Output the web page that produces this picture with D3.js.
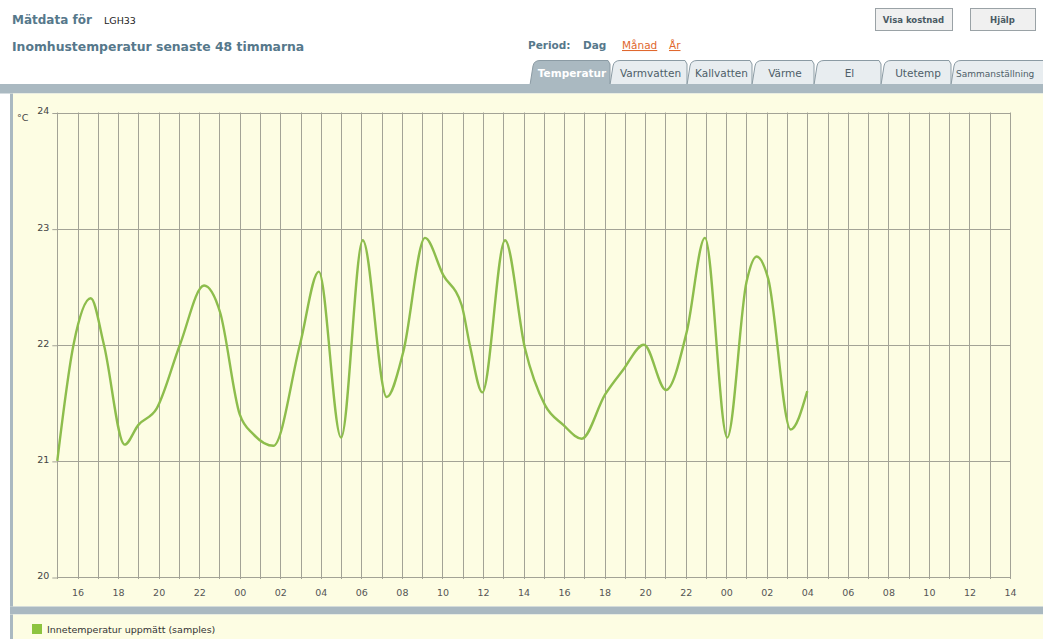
<!DOCTYPE html>
<html>
<head>
<meta charset="utf-8">
<script src="https://cdn.jsdelivr.net/npm/d3@7"></script>
<style>
  html, body { margin: 0; padding: 0; background: #fff; }
  svg { display: block; }
</style>
</head>
<body>
<svg id="chart" width="1043" height="639"></svg>
<script>
// ---------- data ----------
const startTime = new Date(2012, 0, 10, 15, 0);      // first tick hour (15:00)
const spanHours = 47;                                  // axis runs to 14:00 two days later
const sampleHours = [0, 0.8, 1.65, 2.3, 3.32, 4.0, 4.9, 6.05, 7.24, 8.03, 9.0, 9.67, 10.66,
  11.97, 12.9, 14.0, 15.07, 16.25, 17.07, 18.14, 19.04, 19.95, 20.36, 20.97, 22.09, 23.07,
  24.06, 24.96, 25.87, 27.02, 27.9, 28.94, 30.03, 31.05, 31.95, 33.05, 34.0, 34.5, 35.07,
  36.18, 37.0];
const sampleTemps = [21.00, 22.00, 22.40, 22.00, 21.14, 21.31, 21.45, 22.00, 22.51, 22.28,
  21.40, 21.23, 21.13, 22.00, 22.63, 21.20, 22.90, 21.55, 21.94, 22.92, 22.60, 22.34, 21.99,
  21.59, 22.90, 21.97, 21.48, 21.31, 21.19, 21.57, 21.78, 22.00, 21.61, 22.11, 22.92, 21.20,
  22.54, 22.76, 22.57, 21.27, 21.60];
const yTicks = [20, 21, 22, 23, 24];
const seriesName = "Innetemperatur uppmätt (samples)";
const tabNames = ["Temperatur", "Varmvatten", "Kallvatten", "Värme", "El", "Utetemp", "Sammanställning"];
const periodLinks = ["Månad", "År"];

// ---------- layout ----------
const svg = d3.select("#chart");
const plot = { left: 57.3, right: 1010, top: 112.5, bottom: 577 };
const slate = "#56788b";
const band = "#aab9c1";
const paper = "#fdfde3";
const font = "DejaVu Sans, Verdana, sans-serif";

// header
svg.append("text").attr("x", 12).attr("y", 24).attr("font-family", font).attr("font-weight", "bold")
  .attr("font-size", 12).attr("fill", slate).text("Mätdata för");
svg.append("text").attr("x", 104).attr("y", 24).attr("font-family", font)
  .attr("font-size", 9.5).attr("fill", "#222").text("LGH33");
svg.append("text").attr("x", 12).attr("y", 51).attr("font-family", font).attr("font-weight", "bold")
  .attr("font-size", 12.4).attr("fill", slate).text("Inomhustemperatur senaste 48 timmarna");

// buttons
[["Visa kostnad", 875, 952], ["Hjälp", 970, 1035]].forEach(([t, x0, x1]) => {
  svg.append("rect").attr("x", x0 + 0.5).attr("y", 8.5).attr("width", x1 - x0).attr("height", 22)
    .attr("fill", "#f0f0f0").attr("stroke", "#9aa2a6");
  svg.append("text").attr("x", (x0 + x1) / 2).attr("y", 23).attr("text-anchor", "middle")
    .attr("font-family", font).attr("font-weight", "bold").attr("font-size", 8.5)
    .attr("fill", "#4a5a64").text(t);
});

// period
svg.append("text").attr("x", 528).attr("y", 49).attr("font-family", font).attr("font-weight", "bold")
  .attr("font-size", 10.5).attr("fill", slate).text("Period:");
svg.append("text").attr("x", 583).attr("y", 49).attr("font-family", font).attr("font-weight", "bold")
  .attr("font-size", 10.5).attr("fill", slate).text("Dag");
const periodX = [622, 669];
periodLinks.forEach((t, i) => {
  svg.append("text").attr("x", periodX[i]).attr("y", 49).attr("font-family", font)
    .attr("font-size", 10.5).attr("fill", "#e0682e").attr("text-decoration", "underline").text(t);
});

// tabs
const tabEdges = [530, 610, 687, 752, 814, 881, 951, 1050];
const tabG = svg.append("g");
tabNames.forEach((t, i) => {
  const x0 = tabEdges[i], x1 = tabEdges[i + 1];
  const active = i === 0;
  const last = i === tabNames.length - 1;
  tabG.append("path")
    .attr("d", `M${x0},85 L${x0 + 3},66 Q${x0 + 4},60.5 ${x0 + 10},60.5 L${x1 - 2},60.5 L${x1},64 L${x1},85`)
    .attr("fill", active ? band : "#e8edf0").attr("stroke", "#8b9ba4").attr("stroke-width", 1);
  const tx = last ? x0 + 5 : (x0 + x1) / 2 + 2;
  tabG.append("text").attr("x", tx).attr("y", 77)
    .attr("text-anchor", last ? "start" : "middle")
    .attr("font-family", font).attr("font-size", last ? 9 : 10.5)
    .attr("font-weight", active ? "bold" : "normal")
    .attr("fill", active ? "#fff" : "#4e5e68").text(t);
});

// panel
svg.append("rect").attr("x", 0).attr("y", 84).attr("width", 1043).attr("height", 9.5).attr("fill", band);
svg.append("rect").attr("x", 10).attr("y", 93.5).attr("width", 1033).attr("height", 513).attr("fill", paper);
svg.append("rect").attr("x", 10).attr("y", 93.5).attr("width", 3).attr("height", 513).attr("fill", band);
svg.append("rect").attr("x", 10).attr("y", 606.5).attr("width", 1033).attr("height", 8).attr("fill", band);
svg.append("rect").attr("x", 10).attr("y", 614.5).attr("width", 1033).attr("height", 25).attr("fill", paper);
svg.append("rect").attr("x", 10).attr("y", 614.5).attr("width", 3).attr("height", 25).attr("fill", band);

// scales
const endTime = d3.timeHour.offset(startTime, spanHours);
const x = d3.scaleTime().domain([startTime, endTime]).range([plot.left, plot.right]);
const y = d3.scaleLinear().domain([20, 24]).range([plot.bottom, plot.top]);

// grid
const gridColor = "#a3a396";
const hourTicks = d3.timeHour.every(1).range(startTime, d3.timeHour.offset(endTime, 1));
svg.append("g").selectAll("line").data(hourTicks).join("line")
  .attr("x1", d => Math.round(x(d)) + 0.5).attr("x2", d => Math.round(x(d)) + 0.5)
  .attr("y1", plot.top).attr("y2", plot.bottom + 2)
  .attr("stroke", gridColor).attr("stroke-width", 1);
svg.append("g").selectAll("line").data(yTicks).join("line")
  .attr("x1", plot.left).attr("x2", plot.right)
  .attr("y1", d => Math.round(y(d)) + 0.5).attr("y2", d => Math.round(y(d)) + 0.5)
  .attr("stroke", gridColor).attr("stroke-width", 1);

// y axis
const yAxis = svg.append("g").attr("transform", `translate(${plot.left},0.5)`)
  .call(d3.axisLeft(y).tickValues(yTicks).tickSize(5).tickPadding(3).tickFormat(d3.format("d")));
yAxis.select(".domain").remove();
yAxis.selectAll("line").attr("stroke", gridColor);
yAxis.selectAll("text").attr("font-family", font).attr("font-size", 9.5).attr("fill", "#444").attr("dy", "0.1em");
svg.append("text").attr("x", 17).attr("y", 121).attr("font-family", font).attr("font-size", 9.5)
  .attr("fill", "#444").text("°C");

// x axis
const xAxis = svg.append("g").attr("transform", `translate(0,${plot.bottom})`)
  .call(d3.axisBottom(x).ticks(d3.timeHour.every(2)).tickSize(0).tickPadding(12)
    .tickFormat(d3.timeFormat("%H")));
xAxis.select(".domain").remove();
xAxis.selectAll("text").attr("font-family", font).attr("font-size", 9.5).attr("fill", "#555");

// line
const samples = sampleHours.map((h, i) => ({ t: new Date(startTime.getTime() + h * 3600e3), v: sampleTemps[i] }));
svg.append("path").datum(samples)
  .attr("fill", "none").attr("stroke", "#8dbd4c").attr("stroke-width", 2.4)
  .attr("stroke-linejoin", "round")
  .attr("d", d3.line().x(d => x(d.t)).y(d => y(d.v)).curve(d3.curveMonotoneX));

// legend
svg.append("rect").attr("x", 32).attr("y", 624).attr("width", 10).attr("height", 10).attr("fill", "#8dc43f");
svg.append("text").attr("x", 47).attr("y", 633).attr("font-family", font).attr("font-size", 9.5)
  .attr("fill", "#333").text(seriesName);
</script>
</body>
</html>
